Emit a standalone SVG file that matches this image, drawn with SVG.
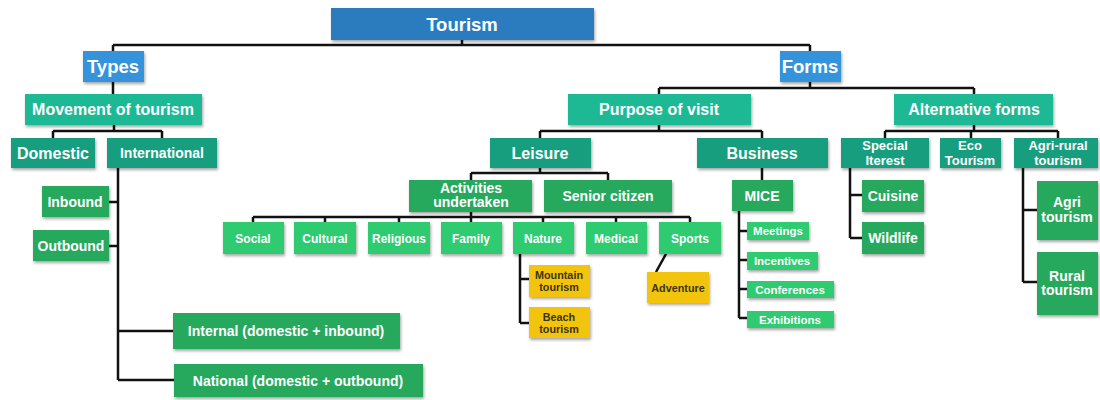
<svg xmlns="http://www.w3.org/2000/svg" width="1100" height="400" viewBox="0 0 1100 400">
<defs>
<filter id="sh" x="-20%" y="-20%" width="140%" height="160%">
<feDropShadow dx="1" dy="2" stdDeviation="1.5" flood-color="#000" flood-opacity="0.35"/>
</filter>
<style>
rect{filter:url(#sh)}
.c0{fill:#2B7BBF}
.c1{fill:#3493DC}
.c2{fill:#1DB994}
.c3{fill:#179E7E}
.c4{fill:#27A85D}
.c5{fill:#2DCB70}
.c6{fill:#F2C40F}
text{font-family:"Liberation Sans",Arial,sans-serif;font-weight:bold;fill:#fff;text-anchor:middle}
.dk{fill:#3b3410}
.f18{font-size:18.5px}.f16{font-size:16px}.f14{font-size:14px}.f13{font-size:13px}.f12{font-size:12px}.f11{font-size:11.5px}.f10{font-size:10.8px}
.con{fill:none;stroke:#111;stroke-width:2.5}
</style>
</defs>
<g id="connectors" class="con">
<path d="M462,40V45 M113,45H810 M113,45V51 M810,45V51 M113,82V94"/>
<path d="M114,125V131 M53,131H162 M53,131V138 M162,131V138"/>
<path d="M118,168V380 M109,202H118 M109,246H118 M118,331H173 M118,380H174"/>
<path d="M810,82V88 M659,88H974 M659,88V94 M974,88V94"/>
<path d="M659,125V131 M540,131H762 M540,131V138 M762,131V138"/>
<path d="M974,125V131 M885,131H1058 M885,131V138 M971,131V138 M1058,131V138"/>
<path d="M540,168V173 M471,173H608 M471,173V180 M608,173V180"/>
<path d="M471,212V217 M253,217H690 M253,217V222 M325,217V222 M399,217V222 M471,217V222 M543,217V222 M616,217V222 M690,217V222"/>
<path d="M520,254V323 M520,279H529 M520,323H529"/>
<path d="M666,254L656,272"/>
<path d="M762,168V180 M739,211V318 M739,231H747 M739,260H747 M739,289H747 M739,318H747"/>
<path d="M850,168V238 M850,195H862 M850,238H862"/>
<path d="M1023,168V282 M1023,210H1037 M1023,282H1037"/>
</g>
<g id="tourism"><rect class="c0" x="331" y="8" width="263" height="32"/><text class="f18" x="462" y="30.5">Tourism</text></g>
<g id="types"><rect class="c1" x="83" y="51" width="61" height="31"/><text class="f18" x="113" y="73">Types</text></g>
<g id="forms"><rect class="c1" x="780" y="51" width="61" height="31"/><text class="f18" x="810" y="73">Forms</text></g>
<g id="movement"><rect class="c2" x="25" y="94" width="177" height="31"/><text class="f16" x="113" y="115">Movement of tourism</text></g>
<g id="purpose"><rect class="c2" x="568" y="94" width="183" height="31"/><text class="f16" x="659" y="115">Purpose of visit</text></g>
<g id="alternative"><rect class="c2" x="894" y="94" width="159" height="31"/><text class="f16" x="974" y="115">Alternative forms</text></g>
<g id="domestic"><rect class="c3" x="11" y="138" width="84" height="30"/><text class="f16" x="53" y="159">Domestic</text></g>
<g id="international"><rect class="c3" x="107" y="138" width="110" height="30"/><text class="f14" x="162" y="158">International</text></g>
<g id="leisure"><rect class="c3" x="490" y="138" width="101" height="30"/><text class="f16" x="540" y="159">Leisure</text></g>
<g id="business"><rect class="c3" x="697" y="138" width="131" height="30"/><text class="f16" x="762" y="159">Business</text></g>
<g id="special"><rect class="c3" x="841" y="138" width="88" height="30"/><text class="f13" x="885" y="150">Special</text><text class="f13" x="885" y="164.5">Iterest</text></g>
<g id="eco"><rect class="c3" x="940" y="138" width="61" height="30"/><text class="f13" x="970" y="150">Eco</text><text class="f13" x="970" y="164.5">Tourism</text></g>
<g id="agrirural"><rect class="c3" x="1014" y="138" width="84" height="30"/><text class="f13" x="1058" y="150">Agri-rural</text><text class="f13" x="1058" y="164.5">tourism</text></g>
<g id="inbound"><rect class="c4" x="42" y="186" width="67" height="31"/><text class="f14" x="75" y="206.5">Inbound</text></g>
<g id="outbound"><rect class="c4" x="33" y="230" width="76" height="31"/><text class="f14" x="71" y="250.5">Outbound</text></g>
<g id="internal"><rect class="c4" x="173" y="313" width="227" height="36"/><text class="f14" x="286" y="336">Internal (domestic + inbound)</text></g>
<g id="national"><rect class="c4" x="174" y="364" width="249" height="33"/><text class="f14" x="298" y="385.5">National (domestic + outbound)</text></g>
<g id="activities"><rect class="c4" x="409" y="180" width="123" height="32"/><text class="f14" x="471" y="193">Activities</text><text class="f14" x="471" y="207">undertaken</text></g>
<g id="senior"><rect class="c4" x="544" y="180" width="128" height="32"/><text class="f14" x="608" y="201">Senior citizen</text></g>
<g id="mice"><rect class="c4" x="732" y="180" width="61" height="31"/><text class="f14" x="762" y="200.5">MICE</text></g>
<g id="cuisine"><rect class="c4" x="862" y="180" width="62" height="32"/><text class="f14" x="893" y="201">Cuisine</text></g>
<g id="wildlife"><rect class="c4" x="862" y="222" width="62" height="32"/><text class="f14" x="893" y="243">Wildlife</text></g>
<g id="agri"><rect class="c4" x="1037" y="181" width="61" height="59"/><text class="f14" x="1067" y="207">Agri</text><text class="f14" x="1067" y="222">tourism</text></g>
<g id="rural"><rect class="c4" x="1037" y="252" width="61" height="63"/><text class="f14" x="1067" y="281">Rural</text><text class="f14" x="1067" y="295">tourism</text></g>
<g id="social"><rect class="c5" x="223" y="222" width="61" height="32"/><text class="f12" x="253" y="242.5">Social</text></g>
<g id="cultural"><rect class="c5" x="294" y="222" width="62" height="32"/><text class="f12" x="325" y="242.5">Cultural</text></g>
<g id="religious"><rect class="c5" x="368" y="222" width="62" height="32"/><text class="f12" x="399" y="242.5">Religious</text></g>
<g id="family"><rect class="c5" x="441" y="222" width="61" height="32"/><text class="f12" x="471" y="242.5">Family</text></g>
<g id="nature"><rect class="c5" x="513" y="222" width="61" height="32"/><text class="f12" x="543" y="242.5">Nature</text></g>
<g id="medical"><rect class="c5" x="586" y="222" width="61" height="32"/><text class="f12" x="616" y="242.5">Medical</text></g>
<g id="sports"><rect class="c5" x="659" y="222" width="62" height="32"/><text class="f12" x="690" y="242.5">Sports</text></g>
<g id="meetings"><rect class="c5" x="747" y="222" width="62" height="18"/><text class="f11" x="778" y="235">Meetings</text></g>
<g id="incentives"><rect class="c5" x="747" y="252" width="71" height="18"/><text class="f11" x="782" y="265">Incentives</text></g>
<g id="conferences"><rect class="c5" x="747" y="281" width="87" height="17"/><text class="f11" x="790" y="293.5">Conferences</text></g>
<g id="exhibitions"><rect class="c5" x="747" y="311" width="87" height="17"/><text class="f11" x="790" y="323.5">Exhibitions</text></g>
<g id="mountain"><rect class="c6" x="529" y="265" width="61" height="32"/><text class="f10 dk" x="559" y="279">Mountain</text><text class="f10 dk" x="559" y="291">tourism</text></g>
<g id="beach"><rect class="c6" x="529" y="307" width="61" height="31"/><text class="f10 dk" x="559" y="321">Beach</text><text class="f10 dk" x="559" y="333">tourism</text></g>
<g id="adventure"><rect class="c6" x="647" y="272" width="62" height="31"/><text class="f10 dk" x="678" y="292">Adventure</text></g>
</svg>
